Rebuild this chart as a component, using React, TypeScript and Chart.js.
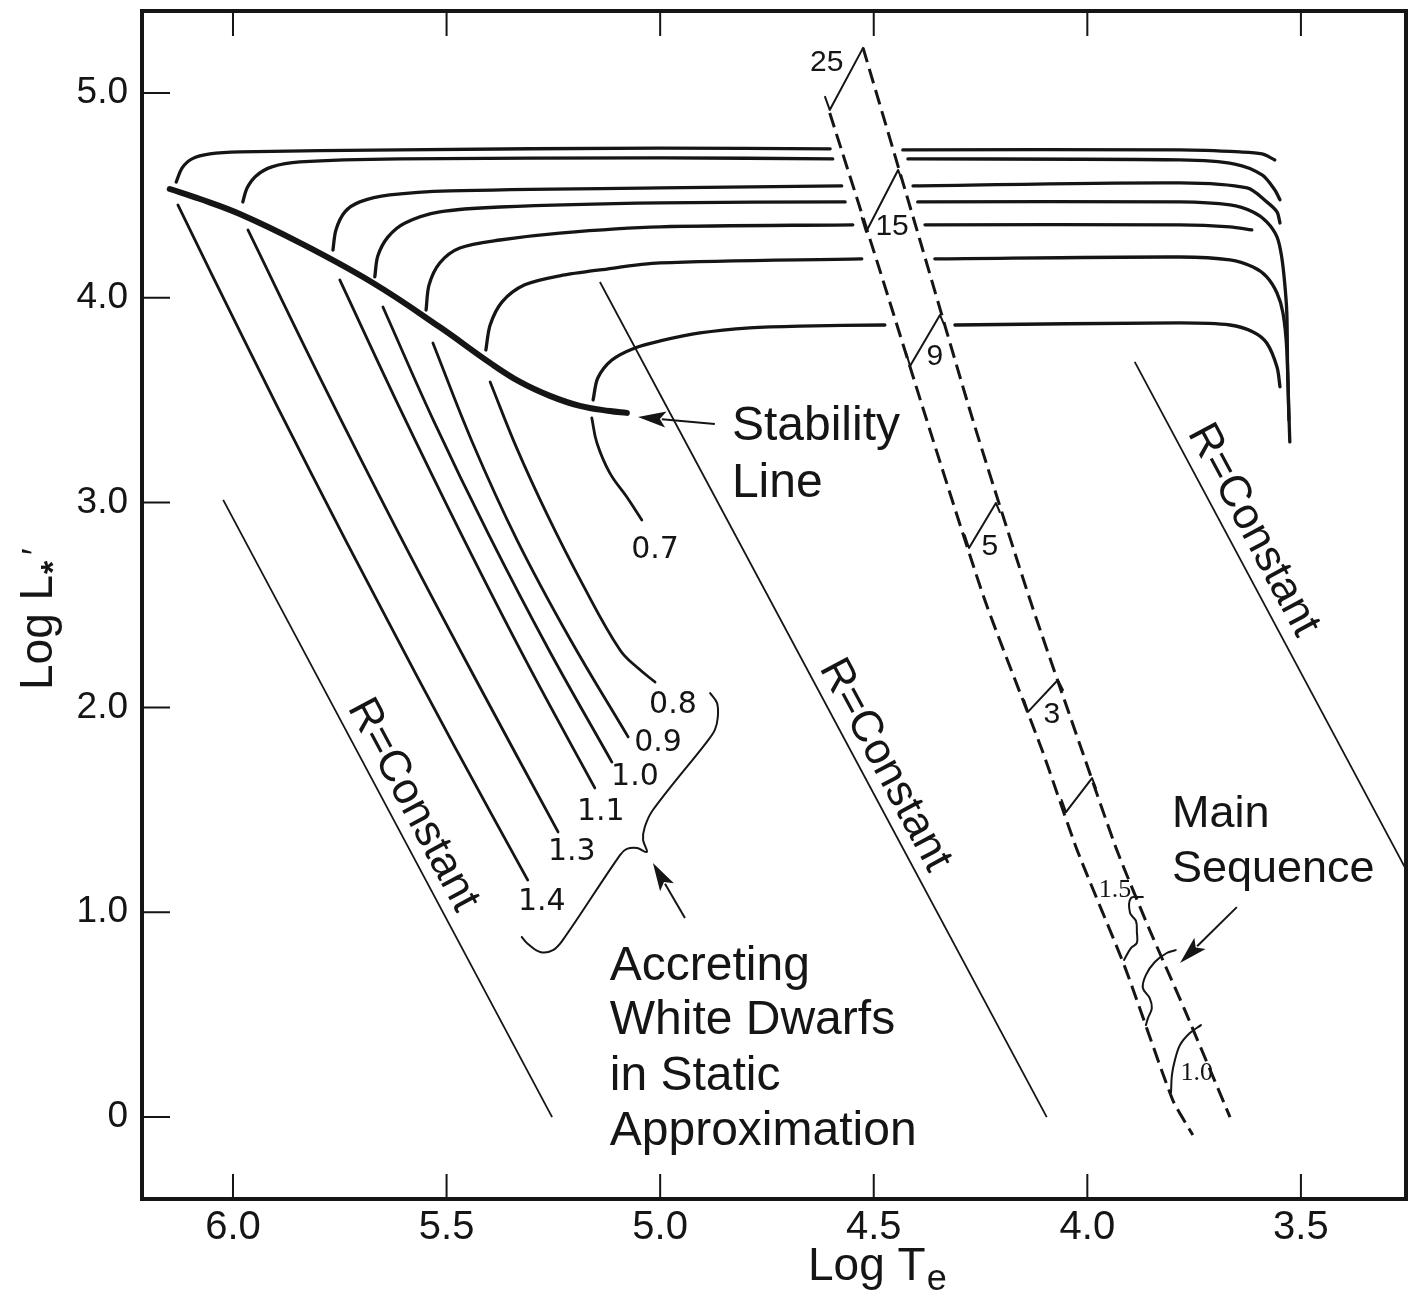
import { useEffect, useRef } from 'react';
import { Chart, registerables } from 'chart.js';

Chart.register(...registerables);

type Pt = [number, number];

// ---------- axes ----------
const xTickValues = [6.0, 5.5, 5.0, 4.5, 4.0, 3.5];
const xTickLabels = ['6.0', '5.5', '5.0', '4.5', '4.0', '3.5'];
const yTickValues = [0, 1, 2, 3, 4, 5];
const yTickLabels = ['0', '1.0', '2.0', '3.0', '4.0', '5.0'];

// ---------- data: [log Te, log L] ----------
const stabilityLine: Pt[] = [
  [6.148, 4.531], [6.077, 4.482], [5.984, 4.409], [5.843, 4.268], [5.672, 4.072], [5.516, 3.857],
  [5.398, 3.682], [5.328, 3.589], [5.258, 3.521], [5.188, 3.472], [5.118, 3.447], [5.078, 3.438],
];

const track14UpperL: Pt[] = [[6.133, 4.565], [6.119, 4.634], [6.096, 4.678], [6.054, 4.702], [5.984, 4.712], [5.609, 4.722], [5.000, 4.731], [4.602, 4.727]];
const track14UpperR: Pt[] = [[4.432, 4.722], [3.783, 4.722], [3.643, 4.712], [3.591, 4.702], [3.561, 4.673]];
const track14Lower: Pt[] = [[6.129, 4.453], [5.974, 3.794], [5.815, 3.135], [5.651, 2.476], [5.483, 1.816], [5.310, 1.157]];

const track13UpperL: Pt[] = [[5.977, 4.468], [5.967, 4.536], [5.946, 4.595], [5.909, 4.639], [5.843, 4.663], [5.609, 4.678], [5.000, 4.683], [4.596, 4.678]];
const track13UpperR: Pt[] = [[4.420, 4.678], [3.783, 4.673], [3.655, 4.653], [3.591, 4.600], [3.561, 4.526], [3.549, 4.478]];
const track13Lower: Pt[] = [[5.965, 4.331], [5.794, 3.599], [5.616, 2.866], [5.431, 2.134], [5.239, 1.392]];

const track11UpperL: Pt[] = [[5.766, 4.233], [5.759, 4.331], [5.738, 4.419], [5.703, 4.468], [5.633, 4.502], [5.492, 4.522], [5.000, 4.536], [4.575, 4.546]];
const track11UpperR: Pt[] = [[4.408, 4.546], [3.783, 4.561], [3.626, 4.536], [3.580, 4.468], [3.556, 4.419], [3.549, 4.365]];
const track11Lower: Pt[] = [[5.750, 4.087], [5.611, 3.467], [5.466, 2.847], [5.314, 2.227], [5.153, 1.607]];

const track10UpperL: Pt[] = [[5.668, 4.102], [5.661, 4.204], [5.637, 4.297], [5.597, 4.365], [5.516, 4.419], [5.375, 4.443], [5.000, 4.463], [4.567, 4.468]];
const track10UpperR: Pt[] = [[4.397, 4.468], [3.783, 4.468], [3.666, 4.453], [3.612, 4.419], [3.580, 4.370], [3.556, 4.297], [3.545, 4.199], [3.538, 4.072], [3.533, 3.926], [3.531, 3.633], [3.526, 3.296]];
const track10Lower: Pt[] = [[5.649, 3.955], [5.530, 3.398], [5.401, 2.842], [5.263, 2.290], [5.113, 1.733]];

const track09UpperL: Pt[] = [[5.548, 3.940], [5.541, 4.063], [5.516, 4.170], [5.469, 4.243], [5.375, 4.282], [5.235, 4.316], [5.000, 4.346], [4.549, 4.356]];
const track09UpperR: Pt[] = [[4.380, 4.356], [3.783, 4.356], [3.666, 4.346], [3.615, 4.331]];
const track09Lower: Pt[] = [[5.532, 3.779], [5.441, 3.301], [5.335, 2.817], [5.211, 2.334], [5.075, 1.856]];

const track08UpperL: Pt[] = [[5.408, 3.745], [5.398, 3.867], [5.370, 3.980], [5.317, 4.063], [5.235, 4.107], [5.141, 4.136], [5.000, 4.170], [4.528, 4.190]];
const track08UpperR: Pt[] = [[4.357, 4.190], [3.783, 4.199], [3.666, 4.185], [3.612, 4.150], [3.580, 4.102], [3.556, 4.023], [3.542, 3.926], [3.533, 3.745], [3.528, 3.403]];
const track08Lower: Pt[] = [[5.398, 3.589], [5.335, 3.262], [5.263, 2.935], [5.183, 2.607], [5.094, 2.280], [5.052, 2.192], [5.012, 2.124]];

const track07UpperL: Pt[] = [[5.157, 3.501], [5.146, 3.608], [5.113, 3.696], [5.059, 3.755], [5.000, 3.789], [4.907, 3.828], [4.790, 3.853], [4.673, 3.862], [4.474, 3.867]];
const track07UpperR: Pt[] = [[4.310, 3.867], [3.783, 3.877], [3.666, 3.867], [3.612, 3.833], [3.580, 3.779], [3.556, 3.662], [3.549, 3.565]];
const track07Lower: Pt[] = [[5.160, 3.413], [5.148, 3.291], [5.118, 3.145], [5.078, 3.027], [5.043, 2.915]];

const massLabels = ['1.4', '1.3', '1.1', '1.0', '0.9', '0.8', '0.7'];
const massLabelPos: Pt[] = [[5.277, 1.050], [5.207, 1.294], [5.139, 1.489], [5.059, 1.660], [5.005, 1.826], [4.970, 2.012], [5.012, 2.769]];

// constant-radius lines
const rLine1: Pt[] = [[6.023, 3.013], [5.253, 0.0]];
const rLine2: Pt[] = [[5.141, 4.077], [4.095, 0.0]];
const rLine3: Pt[] = [[3.889, 3.687], [3.200, 0.999]];
const rLabelPos: Pt[] = [[5.579, 1.524], [4.474, 1.719], [3.612, 2.866]];

// main sequence band
const msLeft: Pt[] = [[4.603, 4.902], [4.486, 4.136], [4.376, 3.403], [4.240, 2.524], [4.106, 1.792], [4.024, 1.304], [3.912, 0.732], [3.800, 0.083], [3.753, -0.088]];
const msRight: Pt[] = [[4.525, 5.220], [4.392, 4.282], [4.268, 3.403], [4.134, 2.524], [4.013, 1.792], [3.931, 1.304], [3.854, 0.913], [3.772, 0.523], [3.666, 0.0]];
const mark25: Pt[] = [[4.614, 4.981], [4.603, 4.917], [4.525, 5.220]];
const mark15: Pt[] = [[4.528, 4.390], [4.518, 4.321], [4.443, 4.624], [4.436, 4.585]];
const mark9: Pt[] = [[4.425, 3.735], [4.415, 3.667], [4.345, 3.916], [4.336, 3.872]];
const mark5: Pt[] = [[4.287, 2.842], [4.277, 2.778], [4.214, 2.998], [4.205, 2.954]];
const mark3: Pt[] = [[4.148, 2.036], [4.139, 1.978], [4.069, 2.134], [4.057, 2.085]];
const mark2: Pt[] = [[4.060, 1.548], [4.050, 1.489], [3.989, 1.655], [3.980, 1.607]];
const mark15Squiggle: Pt[] = [[3.870, 1.074], [3.898, 1.069], [3.900, 0.996], [3.886, 0.957], [3.884, 0.903], [3.884, 0.850], [3.898, 0.825], [3.914, 0.767]];
const markMsSquiggle: Pt[] = [[3.793, 0.815], [3.814, 0.801], [3.842, 0.757], [3.863, 0.693], [3.870, 0.630], [3.854, 0.581], [3.849, 0.532], [3.858, 0.483], [3.863, 0.449]];
const mark10Curve: Pt[] = [[3.734, 0.449], [3.760, 0.410], [3.783, 0.352], [3.795, 0.278], [3.802, 0.205], [3.804, 0.122]];
const msLabels = ['25', '15', '9', '5', '3'];
const msLabelPos: Pt[] = [[4.610, 5.147], [4.457, 4.346], [4.357, 3.711], [4.228, 2.783], [4.083, 1.963]];
const msSmallLabels = ['1.5', '1.0'];
const msSmallPos: Pt[] = [[3.935, 1.108], [3.744, 0.215]];

// brace grouping the accreting white dwarf tracks
const braceCurve: Pt[] = [
  [4.883, 2.070], [4.867, 2.022], [4.865, 1.953], [4.872, 1.890], [4.891, 1.831], [5.017, 1.499],
  [5.036, 1.416], [5.040, 1.353], [5.031, 1.294], [5.054, 1.314], [5.078, 1.309], [5.094, 1.279],
  [5.228, 0.864], [5.251, 0.815], [5.281, 0.806], [5.312, 0.850], [5.324, 0.879],
];

// ---------- annotation layout ----------
const INK = '#151515';
const SANS = '"Liberation Sans", Arial, sans-serif';
const NUMS = '"DejaVu Sans", sans-serif';
const SERIF = '"Liberation Serif", serif';

const notes: { text: string; at: Pt; size: number }[] = [
  { text: 'Stability', at: [4.832, 3.306], size: 48 },
  { text: 'Line', at: [4.832, 3.027], size: 48 },
  { text: 'Accreting', at: [5.118, 0.669], size: 48 },
  { text: 'White Dwarfs', at: [5.118, 0.405], size: 48 },
  { text: 'in Static', at: [5.118, 0.132], size: 48 },
  { text: 'Approximation', at: [5.118, -0.137], size: 48 },
  { text: 'Main', at: [3.802, 1.416], size: 45 },
  { text: 'Sequence', at: [3.802, 1.148], size: 45 },
];
const arrows: { from: Pt; to: Pt }[] = [
  { from: [4.872, 3.384], to: [5.052, 3.418] },
  { from: [4.942, 0.972], to: [5.017, 1.240] },
  { from: [3.650, 1.025], to: [3.783, 0.752] },
];

const toXY = (pts: Pt[]) => pts.map(([x, y]) => ({ x, y }));

const overlay = {
  id: 'overlay',
  afterDatasetsDraw(chart: any) {
    const { ctx, chartArea: a } = chart;
    const xs = chart.scales.x;
    const ys = chart.scales.y;
    const px = (v: number) => xs.getPixelForValue(v);
    const py = (v: number) => ys.getPixelForValue(v);
    ctx.save();
    ctx.strokeStyle = INK;
    ctx.fillStyle = INK;

    // frame
    ctx.lineWidth = 4;
    ctx.strokeRect(a.left, a.top, a.right - a.left, a.bottom - a.top);

    // inward ticks
    ctx.lineWidth = 2;
    ctx.beginPath();
    for (const v of xTickValues) {
      const X = px(v);
      ctx.moveTo(X, a.bottom);
      ctx.lineTo(X, a.bottom - 25);
      ctx.moveTo(X, a.top);
      ctx.lineTo(X, a.top + 25);
    }
    for (const v of yTickValues) {
      const Y = py(v);
      ctx.moveTo(a.left, Y);
      ctx.lineTo(a.left + 28, Y);
    }
    ctx.stroke();

    // arrows
    ctx.lineWidth = 2;
    for (const ar of arrows) {
      const x1 = px(ar.from[0]), y1 = py(ar.from[1]);
      const x2 = px(ar.to[0]), y2 = py(ar.to[1]);
      const ang = Math.atan2(y2 - y1, x2 - x1);
      const L = 28, W = 8;
      const bx = x2 - L * Math.cos(ang), by = y2 - L * Math.sin(ang);
      ctx.beginPath();
      ctx.moveTo(x1, y1);
      ctx.lineTo(bx + 4 * Math.cos(ang), by + 4 * Math.sin(ang));
      ctx.stroke();
      ctx.beginPath();
      ctx.moveTo(x2, y2);
      ctx.lineTo(bx - W * Math.sin(ang), by + W * Math.cos(ang));
      ctx.lineTo(bx + 6 * Math.cos(ang), by + 6 * Math.sin(ang));
      ctx.lineTo(bx + W * Math.sin(ang), by - W * Math.cos(ang));
      ctx.closePath();
      ctx.fill();
    }

    // notes
    ctx.textAlign = 'left';
    ctx.textBaseline = 'alphabetic';
    for (const n of notes) {
      ctx.font = `${n.size}px ${SANS}`;
      ctx.fillText(n.text, px(n.at[0]), py(n.at[1]));
    }

    // R = Constant labels rotated along their lines
    const rLines = [rLine1, rLine2, rLine3];
    ctx.font = `44px ${SANS}`;
    ctx.textAlign = 'center';
    ctx.textBaseline = 'middle';
    rLines.forEach((ln, i) => {
      const ang = Math.atan2(py(ln[1][1]) - py(ln[0][1]), px(ln[1][0]) - px(ln[0][0]));
      ctx.save();
      ctx.translate(px(rLabelPos[i][0]), py(rLabelPos[i][1]));
      ctx.rotate(ang);
      ctx.fillText('R=Constant', 0, 0);
      ctx.restore();
    });

    // mass labels
    ctx.font = `30px ${NUMS}`;
    massLabels.forEach((t, i) => ctx.fillText(t, px(massLabelPos[i][0]), py(massLabelPos[i][1])));
    ctx.font = `30px ${SANS}`;
    msLabels.forEach((t, i) => ctx.fillText(t, px(msLabelPos[i][0]), py(msLabelPos[i][1])));
    ctx.font = `26px ${SERIF}`;
    msSmallLabels.forEach((t, i) => ctx.fillText(t, px(msSmallPos[i][0]), py(msSmallPos[i][1])));

    ctx.restore();
  },
  afterDraw(chart: any) {
    const { ctx, chartArea: a } = chart;
    ctx.save();
    ctx.fillStyle = INK;
    ctx.textBaseline = 'alphabetic';
    ctx.textAlign = 'left';
    // x title: Log T_e
    const x0 = a.left + 666;
    const b0 = a.bottom + 81;
    ctx.font = `46px ${SANS}`;
    ctx.fillText('Log T', x0, b0);
    const w = ctx.measureText('Log T').width;
    ctx.font = `36px ${SANS}`;
    ctx.fillText('e', x0 + w + 1, b0 + 10);
    // y title: Log L*'
    ctx.translate(a.left - 90, a.top + 679);
    ctx.rotate(-Math.PI / 2);
    ctx.font = `46px ${SANS}`;
    ctx.fillText('Log L', 0, 0);
    const w2 = ctx.measureText('Log L').width;
    ctx.font = `bold 34px ${SANS}`;
    ctx.fillText('*', w2 + 1, 12);
    ctx.font = `36px ${SANS}`;
    ctx.fillText('\u2032', w2 + 20, -4);
    ctx.restore();
  },
};

export default function App() {
  const ref = useRef<HTMLCanvasElement>(null);

  useEffect(() => {
    const canvas = ref.current;
    if (!canvas) return;

    const line = (pts: Pt[], width: number, extra: Record<string, unknown> = {}) => ({
      data: toXY(pts),
      showLine: true,
      borderColor: INK,
      backgroundColor: INK,
      borderWidth: width,
      pointRadius: 0,
      pointHoverRadius: 0,
      tension: 0.3,
      fill: false,
      borderCapStyle: 'round',
      borderJoinStyle: 'round',
      ...extra,
    });

    const uppers = [
      track14UpperL, track14UpperR, track13UpperL, track13UpperR, track11UpperL, track11UpperR,
      track10UpperL, track10UpperR, track09UpperL, track09UpperR, track08UpperL, track08UpperR,
      track07UpperL, track07UpperR,
    ];
    const lowers = [track14Lower, track13Lower, track11Lower, track10Lower, track09Lower, track08Lower, track07Lower];

    const datasets: any[] = [
      line(stabilityLine, 6, { tension: 0.4 }),
      ...uppers.map((p) => line(p, 3.3)),
      ...lowers.map((p) => line(p, 2.8, { tension: 0.4 })),
      ...[rLine1, rLine2, rLine3].map((p) => line(p, 1.8, { tension: 0, borderCapStyle: 'butt' })),
      ...[msLeft, msRight].map((p) => line(p, 3, { tension: 0.2, borderDash: [15, 7], borderCapStyle: 'butt' })),
      ...[mark25, mark15, mark9, mark5, mark3, mark2].map((p) => line(p, 2, { tension: 0 })),
      ...[mark15Squiggle, markMsSquiggle, mark10Curve].map((p) => line(p, 2, { tension: 0.35 })),
      line(braceCurve, 2, { tension: 0.35 }),
    ];

    const chart = new Chart(canvas, {
      type: 'scatter',
      data: { datasets },
      options: {
        animation: false,
        responsive: false,
        devicePixelRatio: 1,
        events: [],
        layout: { padding: { left: 0, right: 3, top: 11, bottom: 0 } },
        plugins: { legend: { display: false }, tooltip: { enabled: false }, title: { display: false } },
        scales: {
          x: {
            type: 'linear',
            position: 'bottom',
            reverse: true,
            min: 3.254,
            max: 6.213,
            afterBuildTicks: (axis: any) => {
              axis.ticks = xTickValues.map((v) => ({ value: v }));
            },
            afterFit: (axis: any) => {
              axis.height = 102;
              axis.paddingLeft = 0;
              axis.paddingRight = 0;
            },
            grid: { display: false, drawTicks: false },
            border: { display: false },
            ticks: {
              autoSkip: false,
              maxRotation: 0,
              padding: 5,
              color: INK,
              font: { family: SANS, size: 40 },
              callback: (_v: any, i: number) => xTickLabels[i],
            },
          },
          y: {
            type: 'linear',
            position: 'left',
            min: -0.4,
            max: 5.4,
            afterBuildTicks: (axis: any) => {
              axis.ticks = yTickValues.map((v) => ({ value: v }));
            },
            afterFit: (axis: any) => {
              axis.width = 142;
              axis.paddingTop = 0;
              axis.paddingBottom = 0;
            },
            grid: { display: false, drawTicks: false },
            border: { display: false },
            ticks: {
              autoSkip: false,
              padding: 14,
              color: INK,
              font: { family: SANS, size: 37 },
              callback: (_v: any, i: number) => yTickLabels[i],
            },
          },
        },
      },
      plugins: [overlay],
    } as any);

    return () => chart.destroy();
  }, []);

  return (
    <div style={{ position: 'absolute', left: 0, top: 0, width: 1409, height: 1301, background: '#fff' }}>
      <canvas ref={ref} width={1409} height={1301} style={{ width: 1409, height: 1301, display: 'block' }} />
    </div>
  );
}
